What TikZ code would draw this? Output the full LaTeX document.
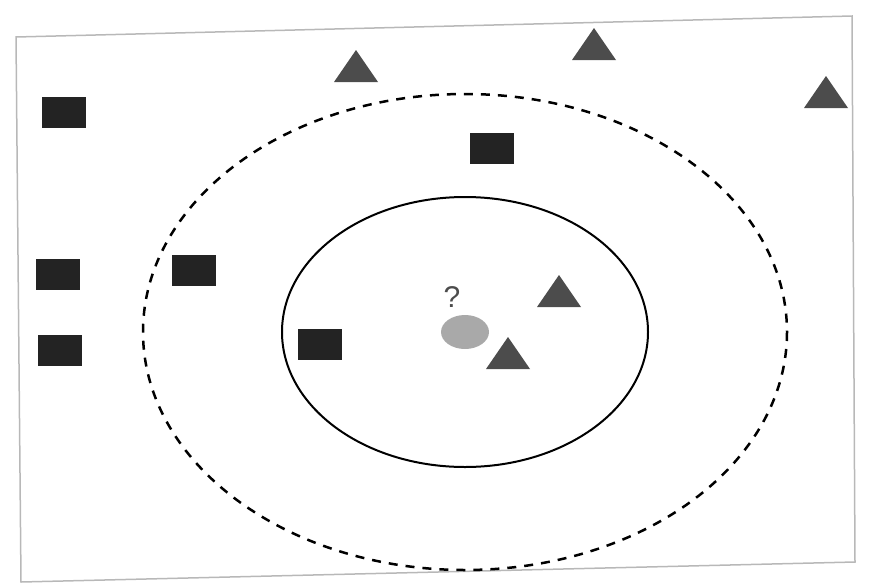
\documentclass[tikz,border=0pt]{standalone}
\usepackage{fontspec}
\setsansfont{Liberation Sans}
\usepackage{tikz}
\usetikzlibrary{positioning,shapes.geometric}

\definecolor{sqcol}{HTML}{232323}
\definecolor{tricol}{HTML}{4C4C4C}
\definecolor{querycol}{HTML}{A9A9A9}
\definecolor{framecol}{HTML}{B8B8B8}

\begin{document}
\begin{tikzpicture}[x=1pt, y=-1pt,
        every node/.style={inner sep=0pt},
        sq/.style={fill=sqcol, minimum width=44pt, minimum height=31pt},
        tri/.pic={\fill[tricol] (-22,16) -- (22,16) -- (0,-16) -- cycle;},
        query/.style={ellipse, fill=querycol, minimum width=48pt, minimum height=34pt}]

        \useasboundingbox (0,0) rectangle (873,584);

        % skewed frame of the scan
        \draw[framecol, line width=1.5pt] (16,37) -- (852,16) -- (855,562) -- (21,582) -- cycle;

        %%% k = 3 and k = 5 neighbourhoods
        \node[query] (qry) at (465,332) {};
        \node[above=7pt of qry, xshift=-13pt, text=tricol, font=\sffamily\fontsize{30}{30}\selectfont] (qmark) {?};
        \draw[line width=2pt] (qry.center) ellipse [x radius=183, y radius=135];
        \draw[line width=2.5pt, dash pattern=on 9pt off 8pt] (qry.center) ellipse [x radius=322, y radius=238];

        %%% class A: squares
        \node[sq] (sqA) at (64,112) {};
        \node[sq] (sqB) at (492,148) {};
        \node[sq] (sqC) at (58,274) {};
        \node[sq] (sqD) at (194,270) {};
        \node[sq] (sqE) at (60,350) {};
        \node[sq] (sqF) at (320,344) {};

        %%% class B: triangles
        \pic (triA) at (356,66) {tri};
        \pic (triB) at (594,44) {tri};
        \pic (triC) at (826,92) {tri};
        \pic (triD) at (559,291) {tri};
        \pic (triE) at (508,353) {tri};
      \end{tikzpicture}
\end{document}
